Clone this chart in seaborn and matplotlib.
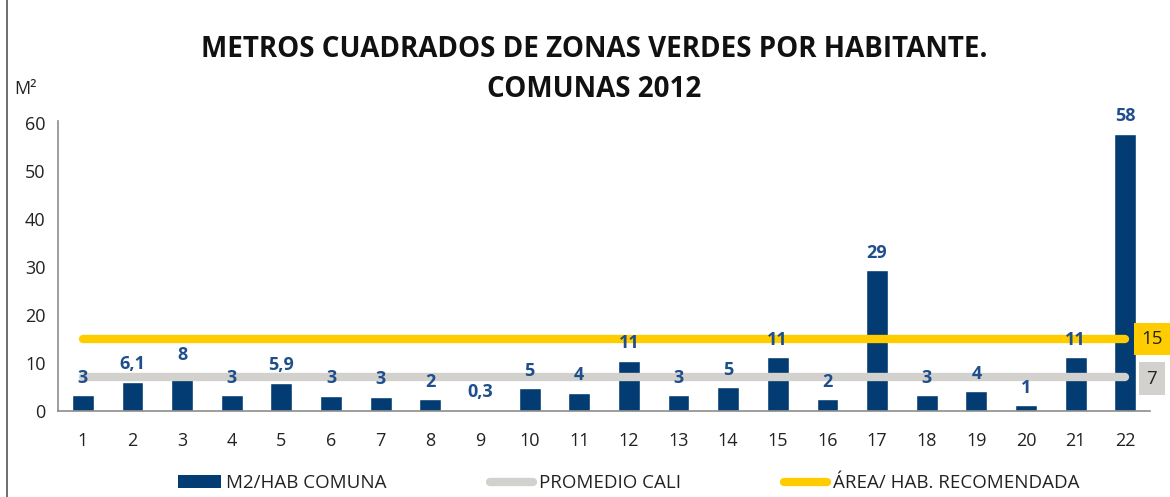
import numpy as np
import pandas as pd
import matplotlib.pyplot as plt
import seaborn as sns
from matplotlib.patches import Patch
from matplotlib.lines import Line2D

# data
comunas = [str(i) for i in range(1, 23)]
m2_hab = [3.3, 6.1, 8.0, 3.3, 5.9, 3.2, 3.0, 2.5, 0.3, 4.8, 3.8, 10.5,
          3.3, 5.0, 11.2, 2.5, 29.3, 3.3, 4.2, 1.2, 11.2, 57.8]
etiquetas = ["3", "6,1", "8", "3", "5,9", "3", "3", "2", "0,3", "5", "4", "11",
             "3", "5", "11", "2", "29", "3", "4", "1", "11", "58"]
promedio_cali = [7] * 22
area_recomendada = [15] * 22

AZUL = "#023c72"
GRIS = "#d3d1cd"
AMARILLO = "#ffcc00"
TEXTO_AZUL = "#1f4e8c"

sns.set_style("white")
plt.rcParams['font.family'] = ['Open Sans', 'DejaVu Sans']

df = pd.DataFrame({'Comuna': comunas, 'M2': m2_hab})

fig = plt.figure(figsize=(11.7, 4.97), dpi=100)
ax = fig.add_axes([0.0496, 0.173, 0.9334, 0.5835])

sns.barplot(data=df, x='Comuna', y='M2', order=comunas, color=AZUL,
            width=0.44, saturation=1, ax=ax, zorder=2)

pos = np.arange(len(comunas))
sns.lineplot(x=pos, y=promedio_cali, color=GRIS, linewidth=6,
             solid_capstyle='round', ax=ax, zorder=3)
sns.lineplot(x=pos, y=area_recomendada, color=AMARILLO, linewidth=6,
             solid_capstyle='round', ax=ax, zorder=3)

# value labels
for i, (v, t) in enumerate(zip(m2_hab, etiquetas)):
    ax.annotate(t, (i, v), xytext=(0, 6), textcoords='offset points',
                ha='center', va='bottom', fontsize=13, fontweight='bold',
                color=TEXTO_AZUL, zorder=4)

# right side labels for the reference lines
ax.annotate("15", (pos[-1], area_recomendada[-1]), xytext=(19.5, 0),
            textcoords='offset points', ha='center', va='center',
            fontsize=13.5, color="#222222", annotation_clip=False,
            bbox=dict(boxstyle='square,pad=0.38', fc=AMARILLO, ec='none'))
ax.annotate("7", (pos[-1], promedio_cali[-1]), xytext=(19, -1),
            textcoords='offset points', ha='center', va='center',
            fontsize=13.5, color="#222222", annotation_clip=False,
            bbox=dict(boxstyle='square,pad=0.4', fc=GRIS, ec='none'))

ax.set_xlim(-0.5, 21.5)
ax.set_ylim(0, 60.4)
ax.set_yticks([0, 10, 20, 30, 40, 50, 60])
ax.set_xlabel("")
ax.set_ylabel("")
ax.tick_params(axis='both', length=0, labelsize=13, colors="#222222")
ax.tick_params(axis='y', pad=9)
ax.tick_params(axis='x', pad=15)
for side in ['top', 'right']:
    ax.spines[side].set_visible(False)
for side in ['left', 'bottom']:
    ax.spines[side].set_color("#8c8c8c")
    ax.spines[side].set_linewidth(1.2)

fig.text(0.508, 0.901, "METROS CUADRADOS DE ZONAS VERDES POR HABITANTE.",
         ha='center', va='center', fontsize=20, fontweight='bold', color="#111111")
fig.text(0.508, 0.819, "COMUNAS 2012", ha='center', va='center',
         fontsize=20, fontweight='bold', color="#111111")
fig.text(0.012, 0.82, "M²", ha='left', va='center', fontsize=13, color="#222222")

handles = [Patch(facecolor=AZUL, edgecolor='none'),
           Line2D([0], [0], color=GRIS, linewidth=6, solid_capstyle='round'),
           Line2D([0], [0], color=AMARILLO, linewidth=6, solid_capstyle='round')]
labels = ["M2/HAB COMUNA", "PROMEDIO CALI", "ÁREA/ HAB. RECOMENDADA"]
fig.legend(handles, labels, loc='center', bbox_to_anchor=(0.537, 0.028), ncol=3,
           frameon=False, fontsize=13.5, columnspacing=5.5, handlelength=2.3,
           handleheight=0.7, handletextpad=0.3, labelcolor="#222222")

# left frame line of the original chart area
fig.add_artist(Line2D([0.006, 0.006], [0, 1], color="#555555", linewidth=1.2,
                      transform=fig.transFigure))

fig.savefig("out.png", dpi=100)
